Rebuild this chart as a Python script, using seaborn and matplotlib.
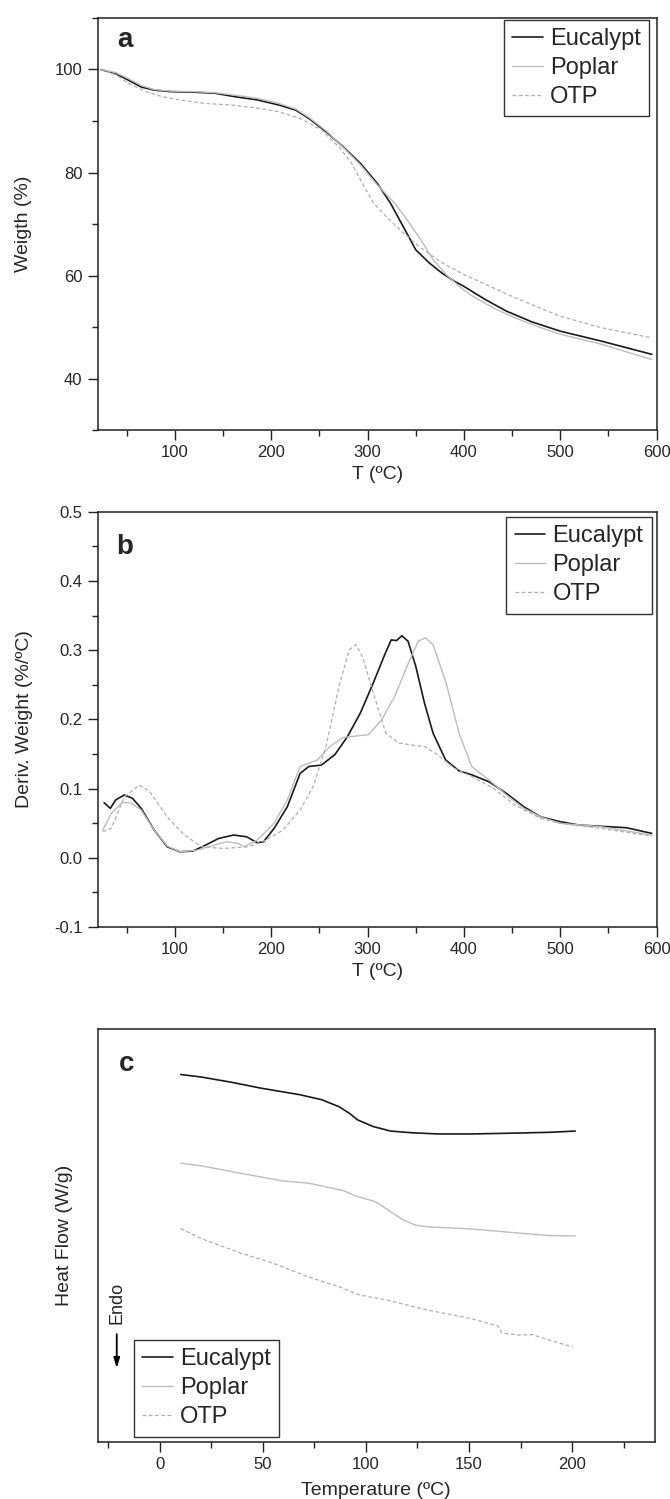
import numpy as np
import pandas as pd
import matplotlib
matplotlib.use('Agg')
import matplotlib.pyplot as plt
import seaborn as sns
from matplotlib.ticker import MultipleLocator, NullLocator

sns.set_style('white')
plt.rcParams['font.family'] = ['Liberation Sans', 'DejaVu Sans']

## a: TGA weight loss
tga_euc_t = [23, 38.5, 52, 65, 78.6, 96, 119, 141, 163, 185.5, 208, 225.6, 239, 257, 274.6, 292.5,
             310, 323.6, 337, 350, 363.7, 377, 390, 400, 421.6, 444, 470.6, 500, 542, 595]
tga_euc_w = [100, 99.2, 97.9, 96.6, 96.0, 95.7, 95.6, 95.4, 94.7, 94.1, 93.1, 92.1, 90.5, 87.9, 85.0, 81.8,
             77.9, 74.1, 69.5, 65.0, 62.5, 60.5, 58.9, 57.9, 55.4, 53.1, 51.0, 49.2, 47.3, 44.7]
tga_pop_t = [23, 38.5, 52, 65, 78.6, 96, 119, 141, 163, 185.5, 208, 225.6, 239, 257, 274.6, 292.5,
             310, 328, 341, 355, 368, 381.5, 395, 408, 430.5, 453, 475, 500, 542, 595]
tga_pop_w = [100, 99.4, 98.2, 96.9, 96.1, 95.8, 95.7, 95.5, 95.0, 94.4, 93.4, 92.3, 90.7, 88.1, 84.9, 81.5,
             77.6, 74.1, 70.8, 67.0, 63.1, 60.2, 57.9, 56.1, 53.7, 51.8, 50.2, 48.6, 46.7, 43.7]
tga_otp_t = [23, 38.5, 52, 70, 87.5, 105, 132, 159, 185.5, 208, 230, 252, 270, 283.5, 294.6, 306,
             319, 337, 355, 377, 400, 430.5, 453, 500, 542, 595]
tga_otp_w = [100, 99.0, 97.3, 95.7, 94.7, 94.1, 93.4, 93.1, 92.5, 91.8, 90.5, 88.3, 85.0, 81.8, 77.9, 74.1,
             71.5, 68.3, 65.4, 62.5, 60.2, 57.6, 55.7, 52.1, 49.9, 47.9]

## b: DTG
dtg_euc_t = [26.5, 33, 38.5, 47.4, 56, 65, 78.6, 92, 105, 118.7, 132, 145.4, 161, 174.4, 185.5, 192, 203,
             216.7, 230, 239, 252, 266, 279, 292.4, 306, 317, 324.5, 330, 335.6, 342, 350, 359, 368, 381,
             395, 408, 426, 444, 462, 479.5, 500, 519.6, 550.8, 568.6, 595]
dtg_euc_v = [0.0797, 0.0715, 0.0836, 0.0908, 0.086, 0.0715, 0.040, 0.016, 0.0087, 0.0097, 0.0184, 0.028,
             0.0329, 0.0304, 0.0217, 0.0232, 0.0425, 0.0739, 0.122, 0.132, 0.134, 0.149, 0.175, 0.209,
             0.253, 0.291, 0.315, 0.314, 0.321, 0.313, 0.277, 0.224, 0.180, 0.1415, 0.1256, 0.12, 0.110,
             0.0932, 0.074, 0.0594, 0.0522, 0.0473, 0.0449, 0.0435, 0.0353]
dtg_pop_t = [25, 34, 45, 54, 65, 78.6, 92, 105, 123, 141, 154, 165.6, 172, 185.5, 203, 216.7, 230, 248,
             261, 275, 288, 301, 315, 328, 341, 352.6, 360, 368, 381.5, 395, 408, 426, 444, 462, 479.5,
             500, 542, 595]
dtg_pop_v = [0.040, 0.0643, 0.0797, 0.0797, 0.069, 0.040, 0.017, 0.0087, 0.011, 0.0184, 0.0232, 0.0208,
             0.016, 0.0256, 0.050, 0.0836, 0.132, 0.1415, 0.161, 0.174, 0.176, 0.178, 0.200, 0.233, 0.277,
             0.313, 0.318, 0.308, 0.253, 0.180, 0.132, 0.1126, 0.091, 0.0715, 0.0594, 0.0498, 0.045, 0.0329]
dtg_otp_t = [25, 34, 47.4, 63, 74, 92, 110, 127.6, 150, 176.6, 194.4, 212, 230, 243.5, 256.8, 270.4, 281,
             288, 294.6, 306, 319, 332.5, 346, 359, 372.6, 390, 408, 430.5, 453, 479.5, 500, 542, 595]
dtg_otp_v = [0.0377, 0.0425, 0.088, 0.105, 0.0957, 0.059, 0.0329, 0.016, 0.0135, 0.016, 0.0256, 0.040,
             0.069, 0.103, 0.161, 0.248, 0.301, 0.308, 0.291, 0.238, 0.180, 0.166, 0.163, 0.161, 0.149,
             0.1295, 0.1174, 0.1005, 0.0763, 0.057, 0.0498, 0.0425, 0.0314]

## c: DSC (arbitrary units)
dsc_euc_t = [10.2, 20, 35, 49, 68, 78.5, 87, 92, 96, 103.5, 112, 122, 135, 151, 172, 189, 201.5]
dsc_euc_h = [89.0, 88.4, 87.1, 85.7, 84.1, 82.9, 81.2, 79.6, 78.0, 76.4, 75.3, 74.9, 74.6, 74.6, 74.8, 75.0, 75.3]
dsc_pop_t = [10.2, 20, 39, 60, 72, 89, 95, 104.6, 112, 118, 124, 130.6, 151, 172, 189, 201.5]
dsc_pop_h = [67.5, 66.9, 65.1, 63.2, 62.7, 60.9, 59.6, 58.2, 55.8, 53.8, 52.5, 52.1, 51.6, 50.7, 50.0, 49.9]
dsc_otp_t = [10.2, 20, 39, 55.6, 72, 87, 97, 110, 130.6, 151, 164, 166, 174, 180.6, 189, 200.4]
dsc_otp_h = [51.7, 49.3, 45.8, 43.2, 40.0, 37.6, 35.6, 34.4, 31.9, 29.9, 28.1, 26.4, 25.9, 26.0, 24.7, 23.0]

names = ['Eucalypt', 'Poplar', 'OTP']
colors = {'Eucalypt': '#1a1a1a', 'Poplar': '#bdbdbd', 'OTP': '#b0b0b0'}
widths = {'Eucalypt': 1.2, 'Poplar': 1.0, 'OTP': 0.9}
dashes = {'Eucalypt': '-', 'Poplar': '-', 'OTP': (0, (3, 2))}


def draw_series(ax, series):
    for name, (xs, ys) in zip(names, series):
        sns.lineplot(x=xs, y=ys, ax=ax, sort=False, estimator=None, color=colors[name],
                     lw=widths[name], ls=dashes[name], label=name)


def style_axes(ax):
    for s in ax.spines.values():
        s.set_color('#222222')
        s.set_linewidth(1.1)
    ax.tick_params(which='both', direction='out', top=False, right=False, bottom=True, left=True,
                   color='#222222', labelsize=12, width=1.0)
    ax.tick_params(which='major', length=7, pad=4)
    ax.tick_params(which='minor', length=4)


fig = plt.figure(figsize=(6.7, 14.99), dpi=100)

ax_a = fig.add_axes([0.146, 0.7131, 0.834, 0.2749])
ax_b = fig.add_axes([0.146, 0.3816, 0.834, 0.2769])
ax_c = fig.add_axes([0.146, 0.038, 0.831, 0.2755])

draw_series(ax_a, [(tga_euc_t, tga_euc_w), (tga_pop_t, tga_pop_w), (tga_otp_t, tga_otp_w)])
ax_a.set_xlim(20, 600)
ax_a.set_ylim(30, 110)
ax_a.xaxis.set_major_locator(MultipleLocator(100))
ax_a.xaxis.set_minor_locator(MultipleLocator(50))
ax_a.yaxis.set_major_locator(MultipleLocator(20))
ax_a.yaxis.set_minor_locator(MultipleLocator(10))
ax_a.set_yticks([40, 60, 80, 100])
ax_a.set_xlabel('T (ºC)', fontsize=14)
ax_a.set_ylabel('Weigth (%)', fontsize=14)
ax_a.xaxis.set_label_coords(0.5, -0.086)
ax_a.yaxis.set_label_coords(-0.118, 0.5)
ax_a.text(0.048, 0.947, 'a', transform=ax_a.transAxes, fontsize=20, fontweight='bold',
          ha='center', va='center')

draw_series(ax_b, [(dtg_euc_t, dtg_euc_v), (dtg_pop_t, dtg_pop_v), (dtg_otp_t, dtg_otp_v)])
ax_b.set_xlim(20, 600)
ax_b.set_ylim(-0.1, 0.5)
ax_b.xaxis.set_major_locator(MultipleLocator(100))
ax_b.xaxis.set_minor_locator(MultipleLocator(50))
ax_b.yaxis.set_major_locator(MultipleLocator(0.1))
ax_b.yaxis.set_minor_locator(MultipleLocator(0.05))
ax_b.yaxis.set_major_formatter(matplotlib.ticker.FormatStrFormatter('%.1f'))
ax_b.set_xlabel('T (ºC)', fontsize=14)
ax_b.set_ylabel('Deriv. Weight (%/ºC)', fontsize=14)
ax_b.xaxis.set_label_coords(0.5, -0.086)
ax_b.yaxis.set_label_coords(-0.116, 0.5)
ax_b.text(0.048, 0.915, 'b', transform=ax_b.transAxes, fontsize=20, fontweight='bold',
          ha='center', va='center')

draw_series(ax_c, [(dsc_euc_t, dsc_euc_h), (dsc_pop_t, dsc_pop_h), (dsc_otp_t, dsc_otp_h)])
ax_c.set_xlim(-30, 240)
ax_c.set_ylim(0, 100)
ax_c.xaxis.set_major_locator(MultipleLocator(50))
ax_c.xaxis.set_minor_locator(MultipleLocator(25))
ax_c.set_xticks([0, 50, 100, 150, 200])
ax_c.yaxis.set_major_locator(NullLocator())
ax_c.set_xlabel('Temperature (ºC)', fontsize=14)
ax_c.set_ylabel('Heat Flow (W/g)', fontsize=14)
ax_c.xaxis.set_label_coords(0.5, -0.097)
ax_c.yaxis.set_label_coords(-0.045, 0.5)
ax_c.text(0.052, 0.915, 'c', transform=ax_c.transAxes, fontsize=20, fontweight='bold',
          ha='center', va='center')
ax_c.text(0.034, 0.337, 'Endo', transform=ax_c.transAxes, fontsize=13, rotation=90,
          ha='center', va='center')
ax_c.annotate('', xy=(0.034, 0.172), xytext=(0.034, 0.268), xycoords='axes fraction',
              arrowprops=dict(arrowstyle='-|>,head_width=0.18,head_length=0.6', color='black', lw=1.3))

for ax in (ax_a, ax_b, ax_c):
    style_axes(ax)

leg_kw = dict(fontsize=17, frameon=True, fancybox=False, framealpha=1, edgecolor='#333333',
              handlelength=1.3, handletextpad=0.3, labelspacing=0.3, borderpad=0.35,
              borderaxespad=0)
leg = ax_a.legend(loc='upper right', bbox_to_anchor=(0.986, 0.996), **leg_kw)
leg.get_frame().set_linewidth(1.0)
leg = ax_b.legend(loc='upper right', bbox_to_anchor=(0.991, 0.988), **leg_kw)
leg.get_frame().set_linewidth(1.0)
leg = ax_c.legend(loc='lower left', bbox_to_anchor=(0.065, 0.013), **leg_kw)
leg.get_frame().set_linewidth(1.0)

fig.savefig('out.png', dpi=100)
